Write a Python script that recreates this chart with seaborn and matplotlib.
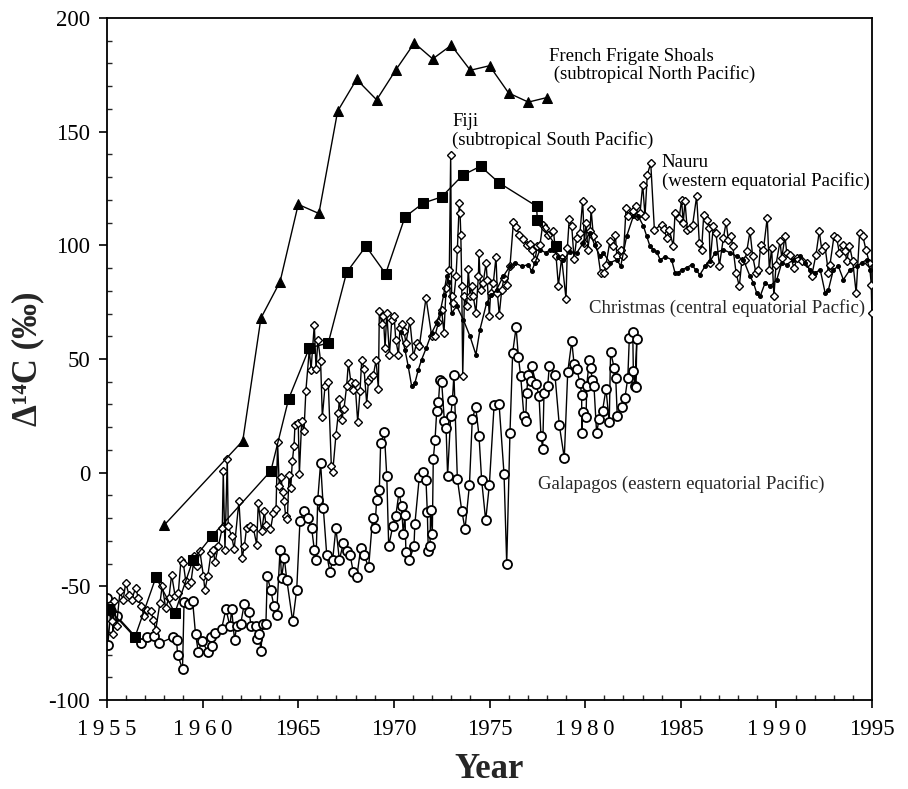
import numpy as np
import pandas as pd
import matplotlib
matplotlib.use("Agg")
import matplotlib.pyplot as plt
from matplotlib.ticker import MultipleLocator, FixedLocator
import seaborn as sns

# French Frigate Shoals (filled triangles)
ffs_year = [1958.0, 1962.1, 1963.05, 1964.05, 1965.0, 1966.08, 1967.06, 1968.05, 1969.1,
            1970.09, 1971.07, 1972.03, 1973.0, 1974.0, 1975.0, 1976.0, 1977.03, 1978.0]
ffs_val = [-23, 14, 68, 84, 118, 114, 159, 173, 164, 177, 189, 182, 188, 177, 179, 167, 163, 165]

# Fiji (filled squares)
fiji_year = [1955.1, 1956.46, 1957.56, 1958.55, 1959.5, 1960.48, 1963.57, 1964.5, 1965.58, 1966.57,
             1967.53, 1968.54, 1969.57, 1970.58, 1971.54, 1972.5, 1973.59, 1974.53, 1975.5,
             1977.46, 1977.5, 1978.5]
fiji_val = [-60, -72.4, -46, -61.7, -38.3, -28, 0.8, 32.5, 54.9, 57, 88.1, 99.6, 87.5, 112.5,
            118.6, 121.3, 130.8, 134.8, 127.5, 117.2, 111.3, 99.6]

# Nauru (open diamonds)
nauru_year = [1955.10, 1955.28, 1955.33, 1955.38, 1955.50, 1955.68, 1955.85, 1955.98, 1956.15, 1956.29,
              1956.50, 1956.64, 1956.78, 1956.95, 1957.08, 1957.30, 1957.42, 1957.55, 1957.77, 1957.89,
              1958.07, 1958.24, 1958.38, 1958.56, 1958.73, 1958.87, 1958.99, 1959.12, 1959.25, 1959.39,
              1959.57, 1959.69, 1959.86, 1960.04, 1960.12, 1960.27, 1960.44, 1960.56, 1960.65, 1960.82,
              1961.03, 1961.08, 1961.17, 1961.29, 1961.34, 1961.52, 1961.65, 1961.90, 1962.07, 1962.18,
              1962.30, 1962.48, 1962.65, 1962.83, 1962.91, 1963.09, 1963.23, 1963.31, 1963.55, 1963.70,
              1963.84, 1963.92, 1964.01, 1964.10, 1964.19, 1964.27, 1964.34, 1964.43, 1964.52, 1964.61,
              1964.69, 1964.78, 1964.83, 1965.00, 1965.06, 1965.18, 1965.30, 1965.40, 1965.58, 1965.67,
              1965.84, 1965.93, 1966.03, 1966.17, 1966.26, 1966.40, 1966.57, 1966.73, 1966.80, 1966.97,
              1967.10, 1967.15, 1967.27, 1967.39, 1967.53, 1967.62, 1967.75, 1967.88, 1967.97, 1968.11,
              1968.23, 1968.32, 1968.44, 1968.58, 1968.67, 1968.79, 1968.93, 1969.07, 1969.19, 1969.24,
              1969.37, 1969.45, 1969.54, 1969.63, 1969.77, 1969.89, 1970.01, 1970.10, 1970.24, 1970.32,
              1970.44, 1970.53, 1970.63, 1970.84, 1971.02, 1971.19, 1971.33, 1971.68, 1971.98, 1972.15,
              1972.33, 1972.50, 1972.62, 1972.73, 1972.90, 1972.97, 1973.02, 1973.11, 1973.25, 1973.32,
              1973.42, 1973.46, 1973.50, 1973.55, 1973.60, 1973.69, 1973.81, 1973.89, 1973.98, 1974.07,
              1974.15, 1974.29, 1974.42, 1974.45, 1974.53, 1974.67, 1974.82, 1974.88, 1974.99, 1975.06,
              1975.20, 1975.34, 1975.41, 1975.51, 1975.64, 1975.76, 1975.90, 1976.07, 1976.25, 1976.39,
              1976.56, 1976.77, 1976.94, 1977.12, 1977.20, 1977.38, 1977.50, 1977.64, 1977.78, 1977.90,
              1978.04, 1978.34, 1978.48, 1978.60, 1978.77, 1979.00, 1979.07, 1979.17, 1979.30, 1979.42,
              1979.56, 1979.73, 1979.87, 1979.96, 1980.05, 1980.14, 1980.26, 1980.31, 1980.43, 1980.60,
              1980.81, 1980.99, 1981.09, 1981.30, 1981.48, 1981.58, 1981.66, 1981.86, 1982.00, 1982.14,
              1982.26, 1982.49, 1982.66, 1982.73, 1982.87, 1983.01, 1983.13, 1983.25, 1983.43, 1983.62,
              1984.00, 1984.12, 1984.26, 1984.40, 1984.61, 1984.70, 1984.92, 1985.04, 1985.13, 1985.22,
              1985.34, 1985.48, 1985.62, 1985.83, 1985.97, 1986.09, 1986.20, 1986.35, 1986.49, 1986.53,
              1986.70, 1986.84, 1987.02, 1987.23, 1987.37, 1987.49, 1987.61, 1987.72, 1987.89, 1988.06,
              1988.19, 1988.36, 1988.45, 1988.62, 1988.76, 1988.93, 1989.06, 1989.18, 1989.32, 1989.52,
              1989.63, 1989.75, 1989.87, 1989.98, 1990.19, 1990.28, 1990.45, 1990.54, 1990.71, 1990.92,
              1991.09, 1991.32, 1991.58, 1991.84, 1992.07, 1992.24, 1992.37, 1992.54, 1992.72, 1992.80,
              1993.01, 1993.15, 1993.29, 1993.47, 1993.59, 1993.68, 1993.82, 1993.99, 1994.17, 1994.35,
              1994.51, 1994.68, 1994.86, 1994.96, 1994.99]
nauru_val = [-60, -65.4, -70.8, -56.6, -67.6, -52.2, -55.9, -48.5, -53.7, -55.9,
             -50.7, -55.1, -58.8, -63.2, -60.3, -61.0, -64.7, -69.1, -57.3, -49.7,
             -59.5, -55.1, -44.9, -54.1, -52.9, -38.3, -39.7, -47.8, -49.3, -48.3,
             -36.8, -40.9, -34.6, -45.3, -51.5, -45.6, -35.3, -33.9, -39.5, -32.4,
             -24.3, 0.6, -33.9, 6.2, -23.6, -28.0, -33.6, -12.6, -37.5, -32.4,
             -24.3, -23.6, -24.3, -31.7, -13.3, -25.8, -17.0, -23.0, -25.0, -17.7,
             -15.8, 13.3, -5.7, -2.0, -8.6, -12.6, -19.2, -20.4, -0.9, -6.7,
             5.0, 11.9, 21.1, 21.9, -0.4, 22.6, 18.2, 36.1, 54.1, 45.3,
             65.1, 45.8, 58.5, 49.0, 24.5, 38.0, 39.7, 3.1, 0.1, 16.4,
             26.3, 32.4, 23.3, 28.0, 38.0, 48.3, 40.0, 36.5, 39.5, 22.3,
             35.8, 49.7, 45.6, 30.4, 40.2, 42.1, 43.1, 49.4, 37.0, 71.0,
             65.6, 68.8, 54.9, 70.3, 51.9, 67.3, 69.1, 58.5, 51.9, 63.7,
             65.6, 62.2, 57.1, 66.6, 51.2, 57.1, 55.6, 76.9, 60.0, 60.3,
             66.1, 71.4, 61.5, 81.3, 89.3, 139.9, 77.6, 74.7, 86.4, 98.4,
             118.6, 114.3, 104.7, 82.0, 42.4, 77.6, 73.2, 89.6, 77.6, 82.0,
             77.6, 70.3, 86.4, 96.7, 80.5, 83.5, 92.3, 84.9, 69.1, 79.0,
             83.5, 94.9, 79.0, 69.5, 80.5, 85.7, 82.7, 90.8, 110.1, 108.1,
             104.7, 102.8, 100.3, 100.6, 98.1, 93.7, 99.6, 100.3, 109.1, 107.7,
             104.7, 106.5, 95.2, 82.3, 94.4, 76.5, 98.8, 111.7, 108.4, 94.0,
             103.3, 105.5, 119.7, 101.1, 109.9, 98.1, 106.2, 116.0, 104.0, 100.3,
             87.9, 87.9, 91.5, 102.1, 99.6, 104.4, 95.2, 98.1, 95.2, 116.5,
             112.8, 115.0, 117.2, 112.8, 114.2, 126.7, 112.8, 131.1, 136.2, 106.9,
             109.1, 107.2, 103.3, 106.9, 99.6, 114.2, 112.1, 120.1, 109.9, 119.4,
             106.9, 107.7, 109.1, 121.6, 101.1, 98.1, 113.5, 111.3, 107.7, 92.3,
             108.4, 105.5, 91.1, 103.3, 110.1, 102.5, 104.3, 99.6, 87.9, 82.0,
             93.0, 93.7, 97.4, 106.2, 95.2, 87.9, 89.0, 100.3, 98.1, 112.1,
             89.3, 98.8, 77.6, 91.5, 101.8, 94.4, 104.0, 96.7, 95.9, 90.1,
             94.4, 93.0, 92.3, 86.4, 95.9, 106.2, 98.1, 99.6, 87.9, 91.5,
             104.0, 103.3, 96.7, 100.3, 97.4, 93.0, 99.9, 93.0, 79.0, 105.5,
             104.3, 98.1, 92.3, 82.7, 70.2]

# Christmas (small filled dots)
xmas_year = [1970.35, 1970.58, 1970.75, 1970.93, 1971.10, 1971.28, 1971.45, 1971.70, 1971.98, 1972.24,
             1972.41, 1972.60, 1972.76, 1972.90, 1973.02, 1973.29, 1973.63, 1973.98, 1974.29, 1974.50,
             1974.85, 1975.10, 1975.37, 1975.72, 1976.07, 1976.33, 1976.68, 1977.03, 1977.20, 1977.38,
             1977.64, 1977.95, 1978.16, 1978.34, 1978.60, 1978.86, 1979.20, 1979.56, 1979.90, 1980.26,
             1980.50, 1980.78, 1980.95, 1981.30, 1981.66, 1981.86, 1982.17, 1982.52, 1982.78, 1983.05,
             1983.22, 1983.39, 1983.57, 1983.75, 1983.92, 1984.20, 1984.52, 1984.70, 1984.88, 1985.05,
             1985.30, 1985.57, 1985.80, 1986.00, 1986.27, 1986.53, 1986.80, 1987.23, 1987.58, 1987.92,
             1988.27, 1988.62, 1988.80, 1988.97, 1989.15, 1989.41, 1989.67, 1990.02, 1990.28, 1990.54,
             1990.89, 1991.24, 1991.50, 1991.76, 1992.03, 1992.29, 1992.55, 1992.72, 1992.98, 1993.24,
             1993.50, 1993.85, 1994.20, 1994.46, 1994.72, 1994.90]
xmas_val = [62, 54.1, 46.8, 38, 39.5, 45.3, 49.7, 55, 61.5, 65.9,
            70.3, 78, 86.4, 84, 70.3, 73.2, 67.3, 60, 51.9, 62.9,
            74.7, 78, 80.5, 86.4, 90.8, 92.3, 90.8, 91.5, 88.6, 92.3,
            98.1, 96.7, 98.1, 98, 95, 93.7, 97, 96.7, 101, 105.5,
            100, 95.2, 96.7, 92.3, 93.7, 90.8, 104, 112.8, 112.8, 108.4,
            104, 99.6, 98.1, 97, 93.7, 95, 93.7, 87.9, 88, 89.3,
            90.1, 91.5, 89, 87.1, 90.8, 93, 96.7, 98.1, 96.7, 95.2,
            93.7, 86.4, 83.5, 79, 77.6, 83.5, 82, 84.9, 92.3, 91.5,
            93.7, 95.2, 92.3, 89.3, 87.9, 89.3, 79, 80.5, 89.3, 90.8,
            84.9, 89.3, 90.8, 92.3, 93.7, 89.3]

# Galapagos (open circles)
gal_year = [1955.02, 1955.04, 1955.2, 1955.5, 1956.8, 1957.07, 1957.46, 1957.74, 1958.43, 1958.64,
            1958.69, 1958.95, 1959.03, 1959.3, 1959.48, 1959.63, 1959.78, 1959.95, 1960.3, 1960.42,
            1960.5, 1960.65, 1960.99, 1961.22, 1961.43, 1961.52, 1961.67, 1961.78, 1961.99, 1962.18,
            1962.44, 1962.53, 1962.79, 1962.86, 1962.96, 1963.05, 1963.14, 1963.31, 1963.38, 1963.56,
            1963.73, 1963.87, 1964.05, 1964.13, 1964.27, 1964.4, 1964.71, 1964.92, 1965.09, 1965.3,
            1965.49, 1965.7, 1965.84, 1965.93, 1966.02, 1966.17, 1966.31, 1966.49, 1966.66, 1966.8,
            1966.97, 1967.15, 1967.36, 1967.53, 1967.71, 1967.88, 1968.06, 1968.27, 1968.44, 1968.68,
            1968.89, 1969.01, 1969.1, 1969.24, 1969.31, 1969.5, 1969.63, 1969.73, 1969.94, 1970.1,
            1970.27, 1970.4, 1970.49, 1970.58, 1970.63, 1970.8, 1971.05, 1971.1, 1971.33, 1971.54,
            1971.68, 1971.75, 1971.8, 1971.89, 1971.92, 1972.01, 1972.06, 1972.15, 1972.24, 1972.33,
            1972.41, 1972.5, 1972.64, 1972.73, 1972.81, 1972.97, 1973.06, 1973.14, 1973.32, 1973.55,
            1973.72, 1973.95, 1974.1, 1974.28, 1974.45, 1974.59, 1974.8, 1974.99, 1975.24, 1975.5,
            1975.76, 1975.9, 1976.07, 1976.21, 1976.39, 1976.51, 1976.63, 1976.8, 1976.89, 1976.94,
            1977.03, 1977.15, 1977.2, 1977.43, 1977.59, 1977.69, 1977.78, 1977.85, 1978.04, 1978.13,
            1978.42, 1978.65, 1978.91, 1979.09, 1979.3, 1979.42, 1979.56, 1979.73, 1979.82, 1979.82,
            1979.87, 1980.05, 1980.08, 1980.22, 1980.29, 1980.37, 1980.46, 1980.6, 1980.73, 1980.91,
            1981.09, 1981.26, 1981.33, 1981.52, 1981.6, 1981.68, 1981.91, 1982.08, 1982.23, 1982.31,
            1982.49, 1982.52, 1982.61, 1982.7, 1982.66]
gal_val = [-55, -76, -61, -63, -75, -72.5, -72, -75, -72.5, -73.5,
           -80, -86.4, -57, -57.8, -56.6, -71, -79, -74, -79, -72.4,
           -76.4, -70.5, -68.8, -60, -67.6, -60, -73.8, -67.6, -66.6, -57.6,
           -61.3, -67.6, -67.3, -73.2, -70.8, -78.6, -66.6, -66.6, -45.6, -51.5,
           -58.8, -62.5, -33.9, -46.3, -37.5, -47, -65.4, -51.5, -21.4, -17,
           -19.9, -24.3, -33.9, -38.3, -11.9, 4.3, -15.5, -36.1, -43.8, -38.3,
           -24.3, -38.3, -31, -34.6, -36.1, -43.8, -45.9, -33.1, -36.1, -41.7,
           -19.9, -24.3, -11.9, -7.5, 13, 17.7, -1.6, -32.4, -23.6, -19,
           -8.6, -14.8, -26.8, -18.5, -35, -38.6, -32.4, -22.4, -1.9, 0.1,
           -3.4, -17.5, -34.6, -32.4, -16.3, -26.8, 6, 14.2, 27, 30.9,
           40.9, 39.7, 22.9, 19.6, -1.3, 24.8, 31.8, 43.1, -2.8, -16.7,
           -24.8, -5.6, 23.6, 28.9, 16.3, -3.4, -21, -5.6, 29.6, 30.2,
           -0.6, -40, 17.5, 52.7, 63.9, 50.9, 42.4, 24.8, 22.9, 35,
           43.1, 40.2, 47.1, 39.2, 33.6, 16.3, 10.6, 35, 38, 47.1,
           43.1, 20.8, 6.5, 44.3, 57.8, 48, 45.6, 39.5, 34.3, 17.5,
           26.7, 24.5, 38, 49.7, 46.1, 40.9, 38.3, 17.5, 23.6, 27.3,
           36.8, 22.1, 53.1, 46.1, 41.7, 24.8, 28.9, 32.9, 41.7, 59.3,
           61.7, 44.6, 38, 58.8, 37.7]

x_ticks = [1955, 1960, 1965, 1970, 1975, 1980, 1985, 1990, 1995]
x_tick_labels = ["1\u20099\u20095\u20095", "1\u20099\u20096\u20090", "1965", "1970", "1975",
                 "1\u20099\u20098\u20090", "1985", "1\u20099\u20099\u20090", "1995"]
y_ticks = [-100, -50, 0, 50, 100, 150, 200]
y_tick_labels = ["-100", "-50", "0", "50", "100", "150", "200"]

sns.set_style("ticks")
plt.rcParams["font.family"] = ["Liberation Serif", "DejaVu Serif"]

fig = plt.figure(figsize=(9.08, 7.89), dpi=100)
ax = fig.add_axes([0.1178, 0.1128, 0.8426, 0.8644])

common = dict(ax=ax, color="black", sort=False, estimator=None, linewidth=1.0, legend=False)

gal = pd.DataFrame({"year": gal_year, "d14c": gal_val})
sns.lineplot(data=gal, x="year", y="d14c", marker="o", markersize=6.5,
             markerfacecolor="white", markeredgecolor="black", markeredgewidth=1.3, zorder=2, **common)

nau = pd.DataFrame({"year": nauru_year, "d14c": nauru_val})
sns.lineplot(data=nau, x="year", y="d14c", marker="D", markersize=4.2,
             markerfacecolor="white", markeredgecolor="black", markeredgewidth=1.0, zorder=3, **common)

xm = pd.DataFrame({"year": xmas_year, "d14c": xmas_val})
sns.lineplot(data=xm, x="year", y="d14c", marker="o", markersize=2.8,
             markerfacecolor="black", markeredgecolor="black", zorder=4, **common)

fj = pd.DataFrame({"year": fiji_year, "d14c": fiji_val})
sns.lineplot(data=fj, x="year", y="d14c", marker="s", markersize=6.5,
             markerfacecolor="black", markeredgecolor="black", zorder=5, **common)

ff = pd.DataFrame({"year": ffs_year, "d14c": ffs_val})
sns.lineplot(data=ff, x="year", y="d14c", marker="^", markersize=7.5,
             markerfacecolor="black", markeredgecolor="black", zorder=5, **common)

ax.set_xlim(1955, 1995)
ax.set_ylim(-100, 200)
ax.xaxis.set_major_locator(FixedLocator(x_ticks))
ax.set_xticklabels(x_tick_labels)
ax.xaxis.set_minor_locator(MultipleLocator(1))
ax.yaxis.set_major_locator(FixedLocator(y_ticks))
ax.set_yticklabels(y_tick_labels)
ax.yaxis.set_minor_locator(MultipleLocator(10))
ax.tick_params(which="major", direction="out", length=6, width=1.2, labelsize=16.5, pad=6, colors="black")
ax.tick_params(axis="x", which="major", pad=8)
ax.tick_params(which="minor", direction="in", length=3.5, width=1.0)
for sp in ax.spines.values():
    sp.set_linewidth(1.3)
    sp.set_color("black")

ax.set_xlabel("Year", fontsize=25, fontweight="bold", labelpad=9)
ax.set_ylabel("\u0394\u00b9\u2074C (\u2030)", fontsize=25, fontweight="bold", labelpad=3)

txt = dict(fontsize=13.5, color="black", ha="left", va="top", linespacing=1.05)
ax.text(1978.1, 187, "French Frigate Shoals\n (subtropical North Pacific)", **txt)
ax.text(1973.05, 158, "Fiji\n(subtropical South Pacific)", **txt)
ax.text(1984.0, 140, "Nauru\n(western equatorial Pacific)", **txt)
ax.text(1980.2, 72.5, "Christmas (central equatorial Pacfic)", fontsize=13.5, ha="left", va="center")
ax.text(1977.55, -5, "Galapagos (eastern equatorial Pacific)", fontsize=13.5, ha="left", va="center")

fig.savefig("out.png", dpi=100)
